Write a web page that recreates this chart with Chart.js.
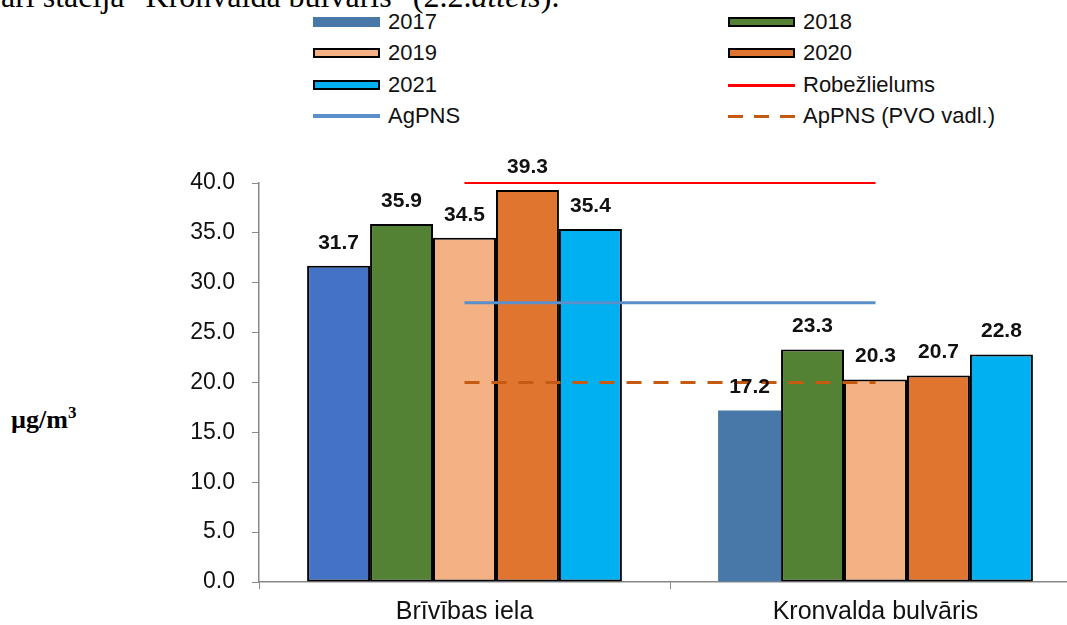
<!DOCTYPE html>
<html>
<head>
<meta charset="utf-8">
<script src="https://cdn.jsdelivr.net/npm/chart.js@4/dist/chart.umd.min.js"></script>
<style>
  html, body { margin: 0; padding: 0; background: #fff; overflow: hidden; width: 1067px; height: 625px; }
  #wrap { position: relative; width: 1067px; height: 625px; overflow: hidden; }
  #chart { position: absolute; left: 0; top: 0; }
  .caption { position: absolute; left: 1px; top: -20px; font: 32px "Liberation Serif", serif; line-height: 1; white-space: nowrap; color: #000; }
  .unit { position: absolute; left: 11px; top: 407px; font: bold 26px "Liberation Serif", serif; line-height: 1; color: #000; }
  .unit sup { font-size: 17px; vertical-align: 10px; line-height: 0; }
  .leg { position: absolute; font: 22px "Liberation Sans", Arial, sans-serif; color: #111; display: flex; align-items: center; height: 22px; white-space: nowrap; }
  .sw { width: 67px; margin-right: 8px; box-sizing: border-box; }
</style>
</head>
<body>
<div id="wrap">
  <div class="caption">arī stacija "Kronvalda bulvāris" (2.2.<i>attēls</i>).</div>
  <div class="unit">µg/m<sup>3</sup></div>
  <div id="legend"></div>
  <canvas id="chart" width="1090" height="625"></canvas>
</div>
<script>
// =====================
// DATA
// =====================

const categories = ["Brīvības iela", "Kronvalda bulvāris"];

const v2017 = [31.7, 17.2];
const v2018 = [35.9, 23.3];
const v2019 = [34.5, 20.3];
const v2020 = [39.3, 20.7];
const v2021 = [35.4, 22.8];

const robezlielums = [40, 40];
const agpns = [28, 28];
const appns = [20, 20];

const yTicks = [0, 5, 10, 15, 20, 25, 30, 35, 40];


// =====================
// DATASETS
// =====================

function bar(label, data, color) {
  return {
    type: "bar", label, data, order: 2,
    backgroundColor: color, borderColor: "#000", borderWidth: 2, borderSkipped: false
  };
}

function line(label, data, color, width, dash) {
  return {
    type: "line", label, data, order: 0, clip: false,
    borderColor: color, borderWidth: width, borderDash: dash || [],
    pointRadius: 0, fill: false, tension: 0
  };
}

const datasets = [
  {
    type: "bar", label: "2017", data: v2017, order: 2,
    backgroundColor: ["#4472C4", "#4878A8"],
    borderColor: ["#000", "rgba(0,0,0,0)"],
    borderWidth: [2, 0], borderSkipped: false
  },
  bar("2018", v2018, "#548235"),
  bar("2019", v2019, "#F4B183"),
  bar("2020", v2020, "#E0752F"),
  bar("2021", v2021, "#00B0F0"),
  line("Robežlielums", robezlielums, "#FF0000", 2),
  line("AgPNS", agpns, "#5B8FC9", 3),
  line("ApPNS (PVO vadl.)", appns, "#C55A11", 3, [15, 12])
];


// =====================
// LEGEND (two columns, html)
// =====================

const legendPos = [
  [313, 11], [728, 11],
  [313, 42], [728, 42],
  [313, 74], [728, 74],
  [313, 105], [728, 105]
];

const legendBox = document.getElementById("legend");
datasets.forEach((ds, i) => {
  const item = document.createElement("div");
  item.className = "leg";
  item.style.left = legendPos[i][0] + "px";
  item.style.top = legendPos[i][1] + "px";

  const sw = document.createElement("div");
  sw.className = "sw";
  if (ds.type === "bar") {
    const c = Array.isArray(ds.backgroundColor) ? ds.backgroundColor[1] : ds.backgroundColor;
    sw.style.height = "10px";
    sw.style.background = c;
    if (i > 0) sw.style.border = "2px solid #000";
  } else if (ds.borderDash.length) {
    sw.style.height = "3px";
    sw.style.background = `repeating-linear-gradient(to right, ${ds.borderColor} 0 15px, transparent 15px 26px)`;
  } else {
    sw.style.height = ds.borderWidth + 1 + "px";
    sw.style.background = ds.borderColor;
  }

  const txt = document.createElement("span");
  txt.textContent = ds.label;
  item.appendChild(sw);
  item.appendChild(txt);
  legendBox.appendChild(item);
});


// =====================
// VALUE LABELS
// =====================

const valueLabels = {
  id: "valueLabels",
  afterDatasetsDraw(chart) {
    const ctx = chart.ctx;
    ctx.save();
    ctx.font = "bold 21px 'Liberation Sans', Arial, sans-serif";
    ctx.fillStyle = "#111";
    ctx.textAlign = "center";
    ctx.textBaseline = "middle";
    chart.data.datasets.forEach((ds, di) => {
      if (ds.type !== "bar") return;
      chart.getDatasetMeta(di).data.forEach((el, i) => {
        ctx.fillText(ds.data[i].toFixed(1), el.x, el.y - 23);
      });
    });
    ctx.restore();
  }
};


// =====================
// CHART
// =====================

const font = "'Liberation Sans', Arial, sans-serif";

new Chart(document.getElementById("chart"), {
  type: "bar",
  data: { labels: categories, datasets },
  plugins: [valueLabels],
  options: {
    responsive: false,
    animation: false,
    layout: { padding: { top: 183, right: 9, left: 0, bottom: 0 } },
    datasets: { bar: { categoryPercentage: 0.766, barPercentage: 1 } },
    plugins: { legend: { display: false }, tooltip: { enabled: false } },
    scales: {
      x: {
        afterFit: s => { s.height = 43; },
        grid: { drawOnChartArea: false, drawTicks: true, tickLength: 7, color: "#888" },
        border: { color: "#888", width: 1.5 },
        ticks: { color: "#111", padding: 8, font: { family: font, size: 25 } }
      },
      y: {
        min: 0, max: 40,
        afterFit: s => { s.width = 259; },
        afterBuildTicks: s => { s.ticks = yTicks.map(v => ({ value: v })); },
        grid: { drawOnChartArea: false, drawTicks: true, tickLength: 7, color: "#888" },
        border: { color: "#888", width: 1.5 },
        ticks: {
          color: "#111", padding: 17,
          font: { family: font, size: 23 },
          callback: v => v.toFixed(1)
        }
      }
    }
  }
});
</script>
</body>
</html>
